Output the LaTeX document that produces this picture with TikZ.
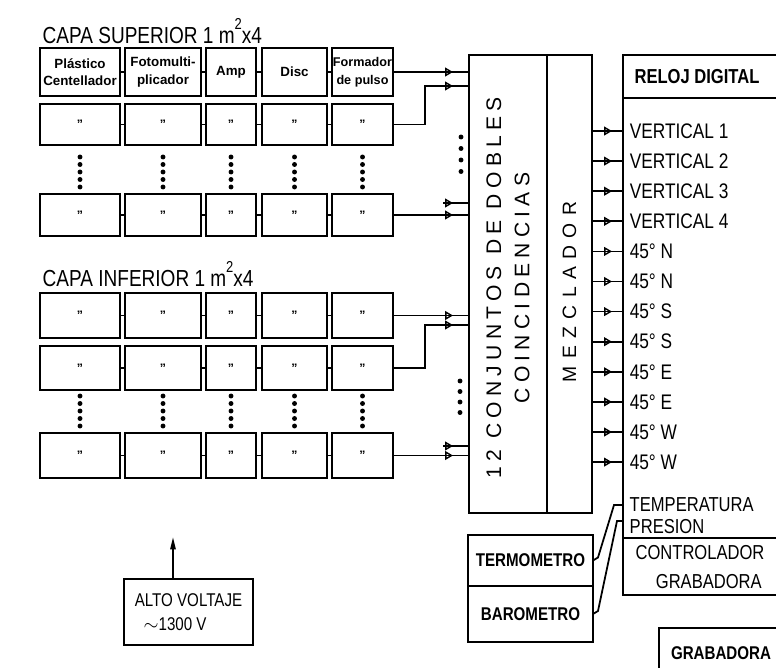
\documentclass[tikz,border=0pt]{standalone}
\usepackage{fontspec}
\setmainfont{Liberation Sans}
\newfontfamily\condfont[FakeStretch=0.82]{Liberation Sans}
\usetikzlibrary{arrows.meta, decorations.markings}

\begin{document}
\begin{tikzpicture}[x=0.02cm, y=-0.02cm, line width=1pt,
    cell/.style={draw, inner sep=0pt, outer sep=0pt},
    head/.style={cell, align=center, minimum height=0.96cm, font=\bfseries\fontsize{7.6}{10}\selectfont},
    buf/.style={postaction={decorate, decoration={markings,
        mark=at position #1 with {\arrow{Triangle[open, length=4.5pt, width=5pt, line width=0.8pt]}}}}}]
        \clip (0,0) rectangle (776,668);
        % Capa superior
        \node[anchor=west, font=\condfont\fontsize{13.2}{15}\selectfont] (tsup) at (36,31) {CAPA SUPERIOR 1 m\raisebox{1.1ex}{\small 2}x4};
        \node[head, minimum width=1.6cm] (b11) at (80,72) {Plástico\\Centellador};
        \node[head, minimum width=1.52cm] (b21) at (163,72) {Fotomulti-\\plicador};
        \node[head, minimum width=1.0cm] (b31) at (231,72) {Amp};
        \node[head, minimum width=1.3cm] (b41) at (294.5,72) {Disc};
        \node[head, minimum width=1.22cm, font=\bfseries\fontsize{7.2}{10}\selectfont] (b51) at (362.5,72) {Formador\\de pulso};
        % Capa inferior
        \node[anchor=west, font=\condfont\fontsize{13.2}{15}\selectfont] (tinf) at (36,274) {CAPA INFERIOR 1 m\raisebox{1.1ex}{\small 2}x4};
        % Remaining rows (ditto marks)
        \foreach \r/\y/\h in {2/124.5/0.82, 3/215/0.84, 4/315.5/0.9, 5/368/0.88, 6/455.5/0.9}
            \foreach \c/\x/\w in {1/80/1.6, 2/163/1.52, 3/231/1.0, 4/294.5/1.3, 5/362.5/1.22}
                \node[cell, minimum width=\w cm, minimum height=\h cm, font=\scriptsize\bfseries] (b\c\r) at (\x,\y) {''};
        \foreach \r in {1,...,6}
            \foreach \a/\b in {1/2, 2/3, 3/4, 4/5}
                \draw (b\a\r) -- (b\b\r);
        % Dots between rows
        \foreach \x in {80,163,231,294.5,362.5}
            \foreach \k in {0,...,4} {
                \fill (\x,157+7.5*\k) circle (1.4pt);
                \fill (\x,396+7.5*\k) circle (1.4pt);
            }
        % Coincidencias / mezclador
        \node[cell, minimum width=1.56cm, minimum height=9.16cm] (coinc) at (508,284) {};
        \node[cell, minimum width=0.9cm, minimum height=9.16cm] (mezcl) at (569.5,284) {};
        \node[rotate=90, align=center, font=\fontsize{12}{16}\selectfont\addfontfeature{LetterSpace=25}] (tcoinc) at (508,288) {12 CONJUNTOS DE DOBLES\\COINCIDENCIAS};
        \node[rotate=90, font=\fontsize{11}{12}\selectfont\addfontfeature{LetterSpace=38}] (tmezcl) at (569.5,292) {MEZCLADOR};
        % Inputs
        \coordinate (st3) at (443,203);
        \coordinate (st6) at (443,446);
        \draw[buf=-0.32cm] (b51.east) -- (b51.east -| coinc.west);
        \draw[buf=-0.32cm] (b52.east) -- ++(32,0) |- (coinc.west |- 0,86);
        \draw[buf=-0.32cm] (st3) -- (st3 -| coinc.west);
        \draw[buf=-0.32cm] (b53.east) -- (b53.east -| coinc.west);
        \draw[buf=-0.32cm] (b54.east) -- (b54.east -| coinc.west);
        \draw[buf=-0.32cm] (b55.east) -- ++(32,0) |- (coinc.west |- 0,325);
        \draw[buf=-0.32cm] (st6) -- (st6 -| coinc.west);
        \draw[buf=-0.32cm] (b56.east) -- (b56.east -| coinc.west);
        \foreach \k in {0,...,3} {
            \fill (461,137+11.5*\k) circle (1.4pt);
            \fill (460,381+10.5*\k) circle (1.4pt);
        }
        % Reloj and outputs
        \node[cell, minimum width=3.54cm, minimum height=0.86cm] (reloj) at (711.5,76.5) {};
        \node[font=\condfont\bfseries\fontsize{11.5}{13}\selectfont] (treloj) at (697,77) {RELOJ DIGITAL};
        \node[cell, minimum width=3.54cm, minimum height=8.8cm] (panel) at (711.5,318) {};
        \foreach \lab [count=\i from 0, evaluate=\i as \yy using 131+30.1*\i] in
            {VERTICAL 1, VERTICAL 2, VERTICAL 3, VERTICAL 4, 45° N, 45° N, 45° S, 45° S, 45° E, 45° E, 45° W, 45° W}
            \draw[buf=-0.22cm] (mezcl.east |- 0,\yy) -- (panel.west |- 0,\yy)
                node[right, font=\condfont\fontsize{12}{14}\selectfont] (o\i) {\lab};
        \node[right, font=\condfont\fontsize{11.5}{13}\selectfont] (temp) at (623,505) {TEMPERATURA};
        \node[right, font=\condfont\fontsize{11.5}{13}\selectfont] (pres) at (623,527) {PRESION};
        % Controlador, grabadora
        \node[cell, minimum width=3.54cm, minimum height=1.14cm] (ctrl) at (711.5,566.5) {};
        \node[align=center, font=\condfont\fontsize{11.5}{16.5}\selectfont] (tctrl) at (700,567) {CONTROLADOR\\\hspace*{10pt}GRABADORA};
        \node[cell, minimum width=2.82cm, minimum height=1.84cm] (grab) at (729.5,674) {};
        \node[font=\condfont\bfseries\fontsize{10.5}{13}\selectfont] (tgrab) at (721,653) {GRABADORA};
        % Sensores
        \node[cell, minimum width=2.5cm, minimum height=1.02cm, font=\condfont\bfseries\fontsize{10.5}{13}\selectfont] (termo) at (530.5,560.5) {TERMOMETRO};
        \node[cell, minimum width=2.5cm, minimum height=1.12cm, font=\condfont\bfseries\fontsize{10.5}{13}\selectfont] (baro) at (530.5,614) {BAROMETRO};
        \draw (termo.east) -- ++(5,-3) -- (614,505) -- (panel.west |- 0,505);
        \draw (baro.east) -- ++(5,-3) -- (617,521) -- (panel.west |- 0,521);
        % Alto voltaje
        \node[cell, minimum width=2.58cm, minimum height=1.32cm, align=left, font=\condfont\fontsize{10.5}{14}\selectfont] (alto) at (188.5,612) {ALTO VOLTAJE\\\hspace*{5pt}$\sim$1300 V};
        \coordinate (hv) at (173,537);
        \draw[-{Triangle[length=7pt, width=3pt]}] (hv |- alto.north) -- (hv);
    \end{tikzpicture}
\end{document}
